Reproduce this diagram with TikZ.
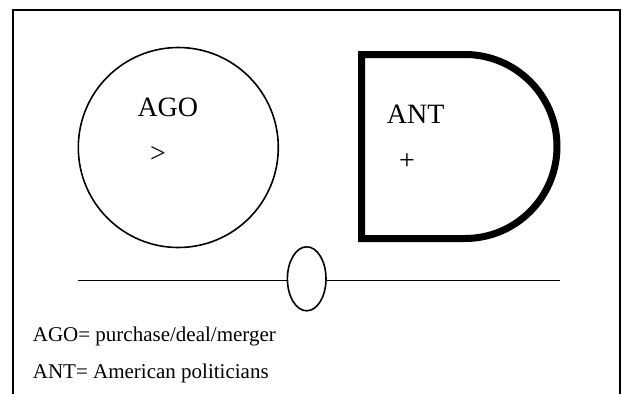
\documentclass[tikz,border=0pt]{standalone}
\usepackage{fontspec}
\setmainfont{Liberation Serif}
\usetikzlibrary{shapes.geometric}
\tikzset{
  bigtxt/.style={font=\fontsize{28}{32}\selectfont, inner sep=0pt, anchor=base west},
  symtxt/.style={font=\fontsize{28}{32}\selectfont, inner sep=0pt, anchor=center},
  legtxt/.style={font=\fontsize{21}{25}\selectfont, inner sep=0pt, anchor=base west},
  thin line/.style={line width=1.6pt, draw=black},
}
\begin{document}
\begin{tikzpicture}[x=1pt,y=-1pt]
\useasboundingbox (0,0) rectangle (622,394);
% frame
\draw[line width=2pt] (12.7,400) -- (12.7,10) -- (619.5,10) -- (619.5,400);
% circle
\node[circle, thin line, minimum size=200pt, inner sep=0pt] (ago) at (178.3,147.5) {};
\node[bigtxt] (agolbl) at (137.3,116.7) {AGO};
\node[symtxt] (agosym) at (158,154) {>};
% D shape
\draw[line width=7pt, line join=miter] (361.5,54.5) -- (465,54.5) arc(-90:90:92) -- (361.5,238.5) -- cycle;
\node[bigtxt] (antlbl) at (386.7,123.3) {ANT};
\node[symtxt] (antsym) at (407,162) {+};
% connector with ellipse
\coordinate (la) at (78,280.5);
\coordinate (lb) at (560,280.5);
\node[ellipse, thin line, minimum width=38.6pt, minimum height=64pt, inner sep=0pt] (ell) at (306.7,278.8) {};
\draw[thin line] (la) -- (la -| ell.west);
\draw[thin line] (lb -| ell.east) -- (lb);
% legend
\node[legtxt] (leg1) at (32.7,341) {AGO= purchase/deal/merger};
\node[legtxt] (leg2) at (32.7,378.3) {ANT= American politicians};
\end{tikzpicture}
\end{document}
